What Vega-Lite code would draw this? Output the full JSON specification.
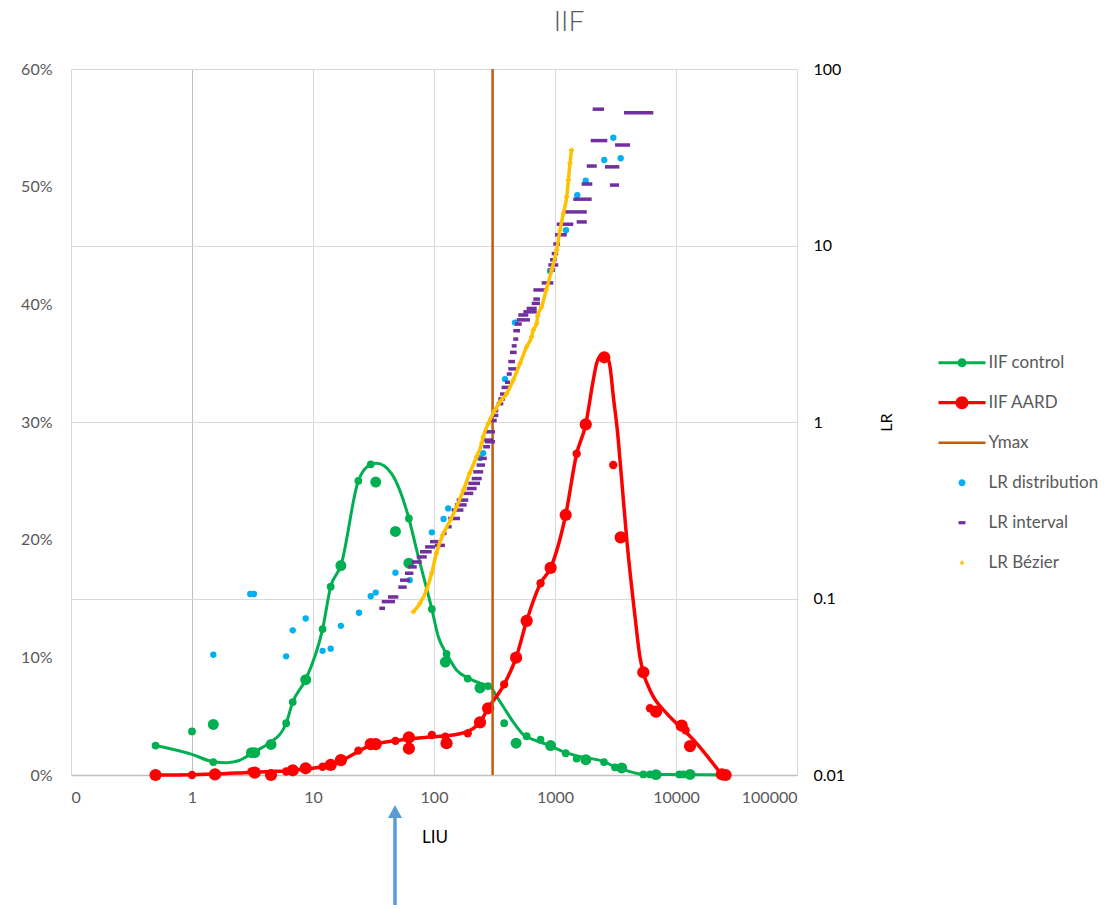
{
  "$schema": "https://vega.github.io/schema/vega-lite/v6.json",
  "autosize": {"type": "none"},
  "padding": {"left": 71, "top": 69, "right": 322, "bottom": 134},
  "width": 726,
  "height": 706,
  "title": {"text": "IIF", "font": "Lato", "fontSize": 28, "fontWeight": 300, "color": "#595959", "anchor": "middle", "frame": "group", "dx": 135, "offset": 2, "baseline": "alphabetic"},
  "datasets": {
    "control_line": [
      {"x": 0.5, "pct": 0.025}, {"x": 1.0, "pct": 0.0175}, {"x": 1.5, "pct": 0.0113}, {"x": 1.94, "pct": 0.0105}, {"x": 2.5, "pct": 0.0127},
      {"x": 3.2, "pct": 0.019}, {"x": 3.9, "pct": 0.024}, {"x": 4.5, "pct": 0.028}, {"x": 6.0, "pct": 0.044}, {"x": 6.8, "pct": 0.062},
      {"x": 8.7, "pct": 0.081}, {"x": 12, "pct": 0.124}, {"x": 14, "pct": 0.16}, {"x": 17, "pct": 0.178}, {"x": 23.7, "pct": 0.25},
      {"x": 30, "pct": 0.264}, {"x": 33.6, "pct": 0.265}, {"x": 44.7, "pct": 0.256}, {"x": 62, "pct": 0.218}, {"x": 72, "pct": 0.191},
      {"x": 96, "pct": 0.141}, {"x": 108.6, "pct": 0.1175}, {"x": 127, "pct": 0.103}, {"x": 154, "pct": 0.089}, {"x": 190, "pct": 0.0825},
      {"x": 240, "pct": 0.078}, {"x": 290, "pct": 0.0755}, {"x": 330, "pct": 0.0666}, {"x": 374, "pct": 0.058}, {"x": 452, "pct": 0.045},
      {"x": 547, "pct": 0.0343}, {"x": 662, "pct": 0.030}, {"x": 853, "pct": 0.026}, {"x": 1225, "pct": 0.019}, {"x": 1610, "pct": 0.0156},
      {"x": 2540, "pct": 0.0113}, {"x": 3035, "pct": 0.0076}, {"x": 3910, "pct": 0.0037}, {"x": 5370, "pct": 0.0006}, {"x": 10640, "pct": 0.0003},
      {"x": 24500, "pct": 0.0}
    ],
    "control_pts": [
      {"x": 0.5, "pct": 0.025, "kind": "s"}, {"x": 1.0, "pct": 0.037, "kind": "s"}, {"x": 1.5, "pct": 0.011, "kind": "s"}, {"x": 6.0, "pct": 0.044, "kind": "s"},
      {"x": 6.8, "pct": 0.062, "kind": "s"}, {"x": 12, "pct": 0.124, "kind": "s"}, {"x": 14, "pct": 0.160, "kind": "s"}, {"x": 23.7, "pct": 0.250, "kind": "s"},
      {"x": 30, "pct": 0.264, "kind": "s"}, {"x": 62, "pct": 0.218, "kind": "s"}, {"x": 96, "pct": 0.141, "kind": "s"}, {"x": 127, "pct": 0.103, "kind": "s"},
      {"x": 190, "pct": 0.082, "kind": "s"}, {"x": 280, "pct": 0.0756, "kind": "s"}, {"x": 380, "pct": 0.044, "kind": "s"}, {"x": 583, "pct": 0.033, "kind": "s"},
      {"x": 760, "pct": 0.030, "kind": "s"}, {"x": 1225, "pct": 0.0185, "kind": "s"}, {"x": 1510, "pct": 0.014, "kind": "s"}, {"x": 2540, "pct": 0.011, "kind": "s"},
      {"x": 3130, "pct": 0.0065, "kind": "s"}, {"x": 5370, "pct": 0.0005, "kind": "s"}, {"x": 6100, "pct": 0.0005, "kind": "s"}, {"x": 10640, "pct": 0.0005, "kind": "s"},
      {"x": 11480, "pct": 0.0005, "kind": "s"},
      {"x": 1.5, "pct": 0.043, "kind": "l"}, {"x": 3.1, "pct": 0.019, "kind": "l"}, {"x": 3.3, "pct": 0.019, "kind": "l"}, {"x": 4.5, "pct": 0.026, "kind": "l"},
      {"x": 8.7, "pct": 0.081, "kind": "l"}, {"x": 17, "pct": 0.178, "kind": "l"}, {"x": 33, "pct": 0.249, "kind": "l"}, {"x": 48, "pct": 0.207, "kind": "l"},
      {"x": 62, "pct": 0.180, "kind": "l"}, {"x": 124, "pct": 0.096, "kind": "l"}, {"x": 240, "pct": 0.074, "kind": "l"}, {"x": 477, "pct": 0.027, "kind": "l"},
      {"x": 920, "pct": 0.025, "kind": "l"}, {"x": 1800, "pct": 0.013, "kind": "l"}, {"x": 3560, "pct": 0.006, "kind": "l"}, {"x": 6840, "pct": 0.0003, "kind": "l"},
      {"x": 13060, "pct": 0.0005, "kind": "l"}, {"x": 24500, "pct": 0.0, "kind": "l"}
    ],
    "aard_line": [
      {"x": 0.5, "pct": 0}, {"x": 1, "pct": 0.0003}, {"x": 1.5, "pct": 0.0008}, {"x": 3, "pct": 0.0022}, {"x": 4.5, "pct": 0.003},
      {"x": 6, "pct": 0.0035}, {"x": 8.7, "pct": 0.0052}, {"x": 12, "pct": 0.007}, {"x": 14, "pct": 0.0088}, {"x": 17, "pct": 0.012},
      {"x": 23.7, "pct": 0.02}, {"x": 30, "pct": 0.0255}, {"x": 40, "pct": 0.028}, {"x": 62, "pct": 0.0305}, {"x": 96, "pct": 0.0325},
      {"x": 127, "pct": 0.0333}, {"x": 190, "pct": 0.037}, {"x": 240, "pct": 0.045}, {"x": 280, "pct": 0.0567}, {"x": 380, "pct": 0.077},
      {"x": 477, "pct": 0.0997}, {"x": 583, "pct": 0.131}, {"x": 760, "pct": 0.163}, {"x": 920, "pct": 0.176}, {"x": 1225, "pct": 0.221},
      {"x": 1510, "pct": 0.273}, {"x": 1795, "pct": 0.298}, {"x": 2075, "pct": 0.336}, {"x": 2210, "pct": 0.35}, {"x": 2430, "pct": 0.357},
      {"x": 2675, "pct": 0.3556}, {"x": 2850, "pct": 0.347}, {"x": 3035, "pct": 0.3215}, {"x": 3275, "pct": 0.293}, {"x": 3556, "pct": 0.251},
      {"x": 3920, "pct": 0.20}, {"x": 4580, "pct": 0.135}, {"x": 5040, "pct": 0.10}, {"x": 5370, "pct": 0.087}, {"x": 6100, "pct": 0.072},
      {"x": 6490, "pct": 0.0666}, {"x": 8370, "pct": 0.0524}, {"x": 10780, "pct": 0.041}, {"x": 13060, "pct": 0.033}, {"x": 23900, "pct": 0}
    ],
    "aard_pts": [
      {"x": 1, "pct": 0, "kind": "s"}, {"x": 3.1, "pct": 0.003, "kind": "s"}, {"x": 6, "pct": 0.003, "kind": "s"}, {"x": 12, "pct": 0.007, "kind": "s"},
      {"x": 23.7, "pct": 0.0207, "kind": "s"}, {"x": 48, "pct": 0.029, "kind": "s"}, {"x": 96, "pct": 0.034, "kind": "s"}, {"x": 124, "pct": 0.0326, "kind": "s"},
      {"x": 190, "pct": 0.0354, "kind": "s"}, {"x": 380, "pct": 0.077, "kind": "s"}, {"x": 760, "pct": 0.163, "kind": "s"}, {"x": 1510, "pct": 0.273, "kind": "s"},
      {"x": 3030, "pct": 0.2635, "kind": "s"}, {"x": 6100, "pct": 0.0567, "kind": "s"}, {"x": 12000, "pct": 0.038, "kind": "s"},
      {"x": 0.5, "pct": 0, "kind": "l"}, {"x": 1.55, "pct": 0.0005, "kind": "l"}, {"x": 3.3, "pct": 0.002, "kind": "l"}, {"x": 4.5, "pct": 0, "kind": "l"},
      {"x": 6.8, "pct": 0.004, "kind": "l"}, {"x": 8.7, "pct": 0.0057, "kind": "l"}, {"x": 14, "pct": 0.0085, "kind": "l"}, {"x": 17, "pct": 0.0127, "kind": "l"},
      {"x": 30, "pct": 0.0263, "kind": "l"}, {"x": 33, "pct": 0.0263, "kind": "l"}, {"x": 62, "pct": 0.032, "kind": "l"}, {"x": 62, "pct": 0.0225, "kind": "l"},
      {"x": 127, "pct": 0.027, "kind": "l"}, {"x": 240, "pct": 0.0447, "kind": "l"}, {"x": 280, "pct": 0.0567, "kind": "l"}, {"x": 477, "pct": 0.0997, "kind": "l"},
      {"x": 583, "pct": 0.131, "kind": "l"}, {"x": 920, "pct": 0.176, "kind": "l"}, {"x": 1225, "pct": 0.221, "kind": "l"}, {"x": 1795, "pct": 0.298, "kind": "l"},
      {"x": 2553, "pct": 0.355, "kind": "l"}, {"x": 3490, "pct": 0.202, "kind": "l"}, {"x": 5370, "pct": 0.0873, "kind": "l"}, {"x": 6840, "pct": 0.0538, "kind": "l"},
      {"x": 11140, "pct": 0.0419, "kind": "l"}, {"x": 13060, "pct": 0.0246, "kind": "l"}, {"x": 23900, "pct": 0.0006, "kind": "l"}, {"x": 25700, "pct": 0, "kind": "l"}
    ],
    "lr_dist": [
      {"x": 1.5, "lr": 0.048}, {"x": 3.03, "lr": 0.106}, {"x": 3.25, "lr": 0.106}, {"x": 6, "lr": 0.047}, {"x": 6.8, "lr": 0.066},
      {"x": 8.7, "lr": 0.077}, {"x": 12, "lr": 0.0505}, {"x": 14, "lr": 0.052}, {"x": 17, "lr": 0.07}, {"x": 24, "lr": 0.083},
      {"x": 30, "lr": 0.103}, {"x": 33, "lr": 0.108}, {"x": 48, "lr": 0.14}, {"x": 63, "lr": 0.127}, {"x": 96, "lr": 0.237},
      {"x": 120, "lr": 0.282}, {"x": 131, "lr": 0.324}, {"x": 240, "lr": 0.625}, {"x": 255, "lr": 0.667}, {"x": 386, "lr": 1.75},
      {"x": 467, "lr": 3.66}, {"x": 910, "lr": 7.17}, {"x": 1233, "lr": 12.2}, {"x": 1528, "lr": 19.3}, {"x": 1794, "lr": 23.3},
      {"x": 2553, "lr": 30.5}, {"x": 3035, "lr": 40.8}, {"x": 3490, "lr": 31.2}
    ],
    "lr_int": [
      {"x1": 35.3, "x2": 39.4, "lr": 0.088}, {"x1": 37.0, "x2": 47.6, "lr": 0.096}, {"x1": 41.7, "x2": 50.7, "lr": 0.102}, {"x1": 50.7, "x2": 59.5, "lr": 0.116},
      {"x1": 52.4, "x2": 63.4, "lr": 0.127}, {"x1": 57.5, "x2": 67.5, "lr": 0.139}, {"x1": 61.3, "x2": 72.0, "lr": 0.151}, {"x1": 65.5, "x2": 79.1, "lr": 0.161},
      {"x1": 72.0, "x2": 87.1, "lr": 0.172}, {"x1": 76.6, "x2": 95.7, "lr": 0.184}, {"x1": 84.4, "x2": 102, "lr": 0.196}, {"x1": 92.7, "x2": 109, "lr": 0.21},
      {"x1": 102, "x2": 123, "lr": 0.20}, {"x1": 116, "x2": 127, "lr": 0.234}, {"x1": 126, "x2": 140, "lr": 0.255}, {"x1": 131, "x2": 164, "lr": 0.284},
      {"x1": 140, "x2": 175, "lr": 0.317}, {"x1": 149, "x2": 186, "lr": 0.339}, {"x1": 154, "x2": 192, "lr": 0.361}, {"x1": 175, "x2": 211, "lr": 0.394},
      {"x1": 186, "x2": 225, "lr": 0.42}, {"x1": 192, "x2": 240, "lr": 0.449}, {"x1": 205, "x2": 248, "lr": 0.478}, {"x1": 211, "x2": 255, "lr": 0.522},
      {"x1": 225, "x2": 264, "lr": 0.57}, {"x1": 232, "x2": 273, "lr": 0.622}, {"x1": 255, "x2": 290, "lr": 0.724}, {"x1": 264, "x2": 319, "lr": 0.773},
      {"x1": 255, "x2": 309, "lr": 0.79}, {"x1": 264, "x2": 319, "lr": 0.88}, {"x1": 281, "x2": 330, "lr": 1.02}, {"x1": 300, "x2": 340, "lr": 1.09},
      {"x1": 309, "x2": 340, "lr": 1.16}, {"x1": 330, "x2": 374, "lr": 1.27}, {"x1": 340, "x2": 386, "lr": 1.35}, {"x1": 351, "x2": 399, "lr": 1.44},
      {"x1": 362, "x2": 425, "lr": 1.57}, {"x1": 386, "x2": 425, "lr": 1.68}, {"x1": 399, "x2": 439, "lr": 1.87}, {"x1": 411, "x2": 482, "lr": 2.0},
      {"x1": 411, "x2": 467, "lr": 2.2}, {"x1": 425, "x2": 482, "lr": 2.48}, {"x1": 439, "x2": 482, "lr": 2.7}, {"x1": 452, "x2": 497, "lr": 2.95},
      {"x1": 452, "x2": 514, "lr": 3.29}, {"x1": 467, "x2": 531, "lr": 3.59}, {"x1": 482, "x2": 621, "lr": 3.79}, {"x1": 497, "x2": 601, "lr": 4.04},
      {"x1": 547, "x2": 706, "lr": 4.21}, {"x1": 583, "x2": 706, "lr": 4.4}, {"x1": 641, "x2": 751, "lr": 4.7}, {"x1": 662, "x2": 751, "lr": 4.97},
      {"x1": 662, "x2": 826, "lr": 5.6}, {"x1": 776, "x2": 968, "lr": 6.14}, {"x1": 881, "x2": 1000, "lr": 7.26}, {"x1": 881, "x2": 1064, "lr": 7.76},
      {"x1": 910, "x2": 1033, "lr": 8.3}, {"x1": 939, "x2": 1064, "lr": 9.0}, {"x1": 968, "x2": 1100, "lr": 10.2}, {"x1": 1000, "x2": 1250, "lr": 11.5},
      {"x1": 1033, "x2": 1416, "lr": 13.2}, {"x1": 1510, "x2": 1829, "lr": 13.6}, {"x1": 1172, "x2": 1829, "lr": 15.5}, {"x1": 1416, "x2": 2010, "lr": 18.3},
      {"x1": 1660, "x2": 2033, "lr": 22.3}, {"x1": 2844, "x2": 3381, "lr": 22.0}, {"x1": 1829, "x2": 2213, "lr": 28.2}, {"x1": 2589, "x2": 3404, "lr": 27.9},
      {"x1": 1972, "x2": 2706, "lr": 39.3}, {"x1": 3135, "x2": 4170, "lr": 37.1}, {"x1": 2047, "x2": 2540, "lr": 59.2}, {"x1": 3717, "x2": 6490, "lr": 56.5}
    ],
    "lr_bez": [
      {"x": 67.5, "lr": 0.084}, {"x": 76.6, "lr": 0.094}, {"x": 87, "lr": 0.112}, {"x": 95.7, "lr": 0.139}, {"x": 104.5, "lr": 0.18},
      {"x": 118, "lr": 0.229}, {"x": 137, "lr": 0.279}, {"x": 154, "lr": 0.331}, {"x": 175, "lr": 0.412}, {"x": 197, "lr": 0.512},
      {"x": 225, "lr": 0.636}, {"x": 248, "lr": 0.757}, {"x": 255, "lr": 0.824}, {"x": 281, "lr": 0.98}, {"x": 319, "lr": 1.17},
      {"x": 351, "lr": 1.30}, {"x": 399, "lr": 1.45}, {"x": 452, "lr": 1.73}, {"x": 514, "lr": 2.15}, {"x": 583, "lr": 2.67},
      {"x": 641, "lr": 3.04}, {"x": 662, "lr": 3.32}, {"x": 706, "lr": 3.61}, {"x": 720, "lr": 4.0}, {"x": 776, "lr": 4.5},
      {"x": 846, "lr": 5.6}, {"x": 939, "lr": 7.26}, {"x": 1033, "lr": 9.44}, {"x": 1100, "lr": 12.2}, {"x": 1172, "lr": 15.2},
      {"x": 1250, "lr": 18.9}, {"x": 1290, "lr": 23.5}, {"x": 1330, "lr": 29.2}, {"x": 1370, "lr": 34.8}
    ],
    "ymax": [{"x": 305}],
    "arrow": [{"x": 47.6, "pct": -0.0365, "pct2": -0.1105}],
    "arrowhead": [{"x": 47.6, "pct": -0.031}],
    "note": [{"x": 102, "pct": -0.0536, "label": "LIU"}],
    "series": [
      {"series": "IIF control"}, {"series": "IIF AARD"}, {"series": "Ymax"},
      {"series": "LR distribution"}, {"series": "LR interval"}, {"series": "LR Bézier"}
    ]
  },
  "layer": [
    {
      "layer": [
        {
          "data": {"name": "control_line"},
          "mark": {"type": "line", "color": "#00B050", "strokeWidth": 3, "interpolate": "monotone"},
          "encoding": {
            "x": {"field": "x", "type": "quantitative",
              "scale": {"type": "log", "domain": [0.1, 100000], "nice": false},
              "axis": {"title": null, "values": [0.1, 1, 10, 100, 1000, 10000, 100000],
                "labelExpr": "datum.value < 0.5 ? '0' : format(datum.value, 'd')",
                "grid": true,
                "gridColor": {"condition": {"test": "datum.value == 1", "value": "#bfbfbf"}, "value": "#d9d9d9"},
                "domain": true, "domainColor": "#bfbfbf", "domainWidth": 1.5, "labelPadding": 14}},
            "y": {"field": "pct", "type": "quantitative",
              "scale": {"domain": [0, 0.6], "nice": false, "zero": false},
              "axis": {"title": null, "orient": "left", "values": [0, 0.1, 0.2, 0.3, 0.4, 0.5, 0.6], "format": ".0%", "grid": false, "labelPadding": 19}}
          }
        },
        {
          "data": {"name": "control_pts"},
          "transform": [{"filter": "datum.kind == 's'"}],
          "mark": {"type": "circle", "color": "#00B050", "opacity": 1, "size": 60},
          "encoding": {
            "x": {"field": "x", "type": "quantitative"},
            "y": {"field": "pct", "type": "quantitative"}
          }
        },
        {
          "data": {"name": "control_pts"},
          "transform": [{"filter": "datum.kind == 'l'"}],
          "mark": {"type": "circle", "color": "#00B050", "opacity": 1, "size": 120},
          "encoding": {
            "x": {"field": "x", "type": "quantitative"},
            "y": {"field": "pct", "type": "quantitative"}
          }
        },
        {
          "data": {"name": "aard_line"},
          "mark": {"type": "line", "color": "#FF0000", "strokeWidth": 3.5, "interpolate": "monotone"},
          "encoding": {
            "x": {"field": "x", "type": "quantitative"},
            "y": {"field": "pct", "type": "quantitative"}
          }
        },
        {
          "data": {"name": "aard_pts"},
          "transform": [{"filter": "datum.kind == 's'"}],
          "mark": {"type": "circle", "color": "#FF0000", "opacity": 1, "size": 70},
          "encoding": {
            "x": {"field": "x", "type": "quantitative"},
            "y": {"field": "pct", "type": "quantitative"}
          }
        },
        {
          "data": {"name": "aard_pts"},
          "transform": [{"filter": "datum.kind == 'l'"}],
          "mark": {"type": "circle", "color": "#FF0000", "opacity": 1, "size": 150},
          "encoding": {
            "x": {"field": "x", "type": "quantitative"},
            "y": {"field": "pct", "type": "quantitative"}
          }
        },
        {
          "data": {"name": "ymax"},
          "mark": {"type": "rule", "color": "#C55A11", "strokeWidth": 2.5},
          "encoding": {
            "x": {"field": "x", "type": "quantitative"}
          }
        },
        {
          "data": {"name": "arrow"},
          "mark": {"type": "rule", "color": "#5B9BD5", "strokeWidth": 3.5},
          "encoding": {
            "x": {"field": "x", "type": "quantitative"},
            "y": {"field": "pct", "type": "quantitative"},
            "y2": {"field": "pct2"}
          }
        },
        {
          "data": {"name": "arrowhead"},
          "mark": {"type": "point", "filled": true, "opacity": 1, "color": "#5B9BD5", "size": 256, "shape": "M0,-0.81L0.875,0.81L-0.875,0.81Z"},
          "encoding": {
            "x": {"field": "x", "type": "quantitative"},
            "y": {"field": "pct", "type": "quantitative"}
          }
        },
        {
          "data": {"name": "note"},
          "mark": {"type": "text", "font": "Lato", "fontSize": 17, "color": "#000000", "align": "center", "baseline": "middle"},
          "encoding": {
            "x": {"field": "x", "type": "quantitative"},
            "y": {"field": "pct", "type": "quantitative"},
            "text": {"field": "label"}
          }
        }
      ]
    },
    {
      "layer": [
        {
          "data": {"name": "lr_dist"},
          "mark": {"type": "circle", "color": "#00B0F0", "opacity": 1, "size": 40},
          "encoding": {
            "x": {"field": "x", "type": "quantitative"},
            "y": {"field": "lr", "type": "quantitative",
              "scale": {"type": "log", "domain": [0.01, 100], "nice": false},
              "axis": {"orient": "right", "title": "LR", "values": [0.01, 0.1, 1, 10, 100], "format": "~g",
                "grid": true, "gridColor": "#d9d9d9", "labelColor": "#000000", "labelPadding": 16,
                "titleAngle": 270, "titleColor": "#000000", "titleFont": "Lato", "titleFontSize": 16, "titleFontWeight": "normal", "titlePadding": 50}}
          }
        },
        {
          "data": {"name": "lr_int"},
          "mark": {"type": "rule", "color": "#7030A0", "strokeWidth": 3.5},
          "encoding": {
            "x": {"field": "x1", "type": "quantitative"},
            "x2": {"field": "x2"},
            "y": {"field": "lr", "type": "quantitative"}
          }
        },
        {
          "data": {"name": "lr_bez"},
          "mark": {"type": "line", "color": "#FFC000", "strokeWidth": 3.5, "interpolate": "monotone"},
          "encoding": {
            "x": {"field": "x", "type": "quantitative"},
            "y": {"field": "lr", "type": "quantitative"}
          }
        },
        {
          "data": {"name": "lr_bez"},
          "mark": {"type": "point", "shape": "cross", "filled": true, "opacity": 1, "color": "#FFC000", "size": 25},
          "encoding": {
            "x": {"field": "x", "type": "quantitative"},
            "y": {"field": "lr", "type": "quantitative"}
          }
        },
        {
          "data": {"name": "series"},
          "transform": [{"filter": "false"}],
          "mark": {"type": "point", "filled": true, "opacity": 1},
          "encoding": {
            "color": {"field": "series", "type": "nominal",
              "scale": {"domain": ["IIF control", "IIF AARD", "Ymax", "LR distribution", "LR interval", "LR Bézier"],
                        "range": ["#00B050", "#FF0000", "#C55A11", "#00B0F0", "#7030A0", "#FFC000"]},
              "legend": {"orient": "none", "legendX": 861.5, "legendY": 264.2, "title": null,
                "symbolSize": 3481, "symbolStrokeWidth": 0, "symbolOpacity": 1,
                "labelFont": "Lato", "labelFontSize": 17, "labelColor": "#595959", "labelOffset": -3}},
            "shape": {"field": "series", "type": "nominal",
              "scale": {"domain": ["IIF control", "IIF AARD", "Ymax", "LR distribution", "LR interval", "LR Bézier"],
                        "range": [
                          "M-0.797,-0.051H-0.147V0.051H-0.797Z M0.147,-0.051H0.797V0.051H0.147Z M-0.153,0A0.153,0.153,0,1,1,0.153,0A0.153,0.153,0,1,1,-0.153,0Z",
                          "M-0.797,-0.054H-0.215V0.054H-0.797Z M0.215,-0.054H0.797V0.054H0.215Z M-0.22,0A0.22,0.22,0,1,1,0.22,0A0.22,0.22,0,1,1,-0.22,0Z",
                          "M-0.797,-0.044H0.797V0.044H-0.797Z",
                          "M-0.119,0A0.119,0.119,0,1,1,0.119,0A0.119,0.119,0,1,1,-0.119,0Z",
                          "M-0.119,-0.054H0.119V0.054H-0.119Z",
                          "M-0.075,-0.027H-0.027V-0.075H0.027V-0.027H0.075V0.027H0.027V0.075H-0.027V0.027H-0.075Z"
                        ]}}
          }
        }
      ]
    }
  ],
  "resolve": {"scale": {"y": "independent"}},
  "config": {
    "view": {"stroke": null},
    "font": "Lato",
    "axis": {"labelFont": "Lato", "labelFontSize": 16, "labelColor": "#595959", "ticks": false, "domain": false, "gridColor": "#d9d9d9", "gridWidth": 1}
  }
}
